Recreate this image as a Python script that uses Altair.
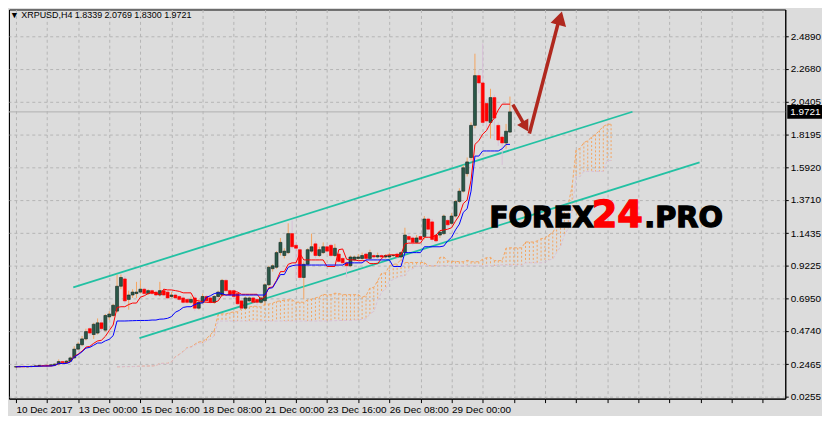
import altair as alt
import pandas as pd

# ---------------- data ----------------
opens = [0.228, 0.230, 0.232, 0.229, 0.231, 0.233, 0.235, 0.238, 0.240, 0.236,
         0.244, 0.248, 0.265, 0.258, 0.268, 0.290, 0.350, 0.380, 0.420, 0.490,
         0.450, 0.460, 0.530, 0.480, 0.570, 0.580, 0.610, 0.780, 0.830, 0.690,
         0.720, 0.730, 0.740, 0.760, 0.730, 0.750, 0.740, 0.720, 0.750, 0.740,
         0.710, 0.720, 0.710, 0.700, 0.690, 0.670, 0.700, 0.630, 0.670, 0.710,
         0.700, 0.670, 0.710, 0.720, 0.820, 0.750, 0.750, 0.730, 0.680, 0.630,
         0.680, 0.700, 0.690, 0.670, 0.680, 0.790, 0.900, 0.910, 1.010, 0.990,
         1.010, 1.140, 1.060, 1.030, 0.840, 0.930, 1.020, 1.070, 0.990, 1.010,
         1.050, 1.060, 0.990, 1.000, 0.970, 0.940, 0.920, 0.960, 0.970, 0.970,
         1.000, 0.970, 0.990, 0.980, 0.990, 0.980, 0.980, 0.990, 1.000, 0.980,
         1.010, 1.120, 1.110, 1.080, 1.120, 1.120, 1.240, 1.220, 1.130, 1.130,
         1.140, 1.230, 1.210, 1.260, 1.360, 1.430, 1.550, 1.660, 1.880, 2.220,
         2.170, 2.030, 1.900, 2.070, 1.880, 1.800, 1.760, 1.8339]
highs = [0.235, 0.236, 0.238, 0.234, 0.237, 0.240, 0.242, 0.245, 0.245, 0.246,
         0.252, 0.280, 0.270, 0.275, 0.300, 0.370, 0.400, 0.440, 0.490, 0.500,
         0.530, 0.560, 0.550, 0.590, 0.610, 0.660, 0.860, 0.860, 0.850, 0.750,
         0.760, 0.810, 0.820, 0.770, 0.760, 0.760, 0.750, 0.810, 0.760, 0.750,
         0.740, 0.730, 0.720, 0.720, 0.700, 0.710, 0.720, 0.690, 0.730, 0.720,
         0.710, 0.720, 0.750, 0.830, 0.830, 0.760, 0.760, 0.740, 0.690, 0.710,
         0.710, 0.710, 0.700, 0.710, 0.800, 0.920, 0.930, 1.020, 1.110, 1.040,
         1.210, 1.230, 1.080, 1.050, 0.950, 1.040, 1.140, 1.090, 1.050, 1.080,
         1.070, 1.070, 1.070, 1.010, 0.980, 0.950, 0.990, 0.990, 1.000, 1.010,
         1.010, 1.030, 1.000, 1.010, 1.000, 1.000, 1.010, 1.000, 1.010, 1.020,
         1.180, 1.140, 1.120, 1.130, 1.130, 1.260, 1.250, 1.240, 1.140, 1.160,
         1.270, 1.240, 1.280, 1.370, 1.450, 1.610, 1.660, 1.900, 2.370, 2.260,
         2.440, 2.060, 2.130, 2.090, 1.900, 1.820, 1.890, 2.0769]
lows = [0.224, 0.226, 0.228, 0.225, 0.227, 0.229, 0.231, 0.233, 0.232, 0.233,
        0.240, 0.238, 0.250, 0.252, 0.262, 0.285, 0.345, 0.370, 0.410, 0.440,
        0.420, 0.450, 0.470, 0.470, 0.550, 0.570, 0.600, 0.760, 0.660, 0.620,
        0.700, 0.700, 0.730, 0.720, 0.720, 0.720, 0.710, 0.710, 0.710, 0.690,
        0.700, 0.690, 0.680, 0.660, 0.660, 0.660, 0.610, 0.620, 0.660, 0.670,
        0.660, 0.660, 0.700, 0.710, 0.740, 0.710, 0.700, 0.650, 0.620, 0.620,
        0.670, 0.660, 0.650, 0.660, 0.650, 0.780, 0.880, 0.900, 0.990, 0.970,
        1.000, 1.030, 0.830, 0.820, 0.690, 0.920, 1.010, 0.970, 0.980, 1.000,
        1.000, 0.980, 0.980, 0.940, 0.930, 0.840, 0.910, 0.950, 0.960, 0.960,
        0.960, 0.960, 0.960, 0.970, 0.970, 0.970, 0.970, 0.980, 0.970, 0.970,
        1.000, 1.080, 1.060, 1.070, 1.090, 1.100, 1.150, 1.080, 1.080, 1.110,
        1.130, 1.180, 1.200, 1.250, 1.350, 1.420, 1.530, 1.640, 1.860, 2.100,
        1.880, 1.840, 1.790, 1.780, 1.740, 1.610, 1.720, 1.8300]
closes = [0.230, 0.232, 0.229, 0.231, 0.233, 0.235, 0.238, 0.236, 0.236, 0.243,
          0.248, 0.265, 0.258, 0.268, 0.290, 0.350, 0.385, 0.420, 0.470, 0.460,
          0.520, 0.530, 0.490, 0.580, 0.590, 0.650, 0.780, 0.840, 0.680, 0.720,
          0.740, 0.740, 0.760, 0.730, 0.750, 0.730, 0.720, 0.750, 0.720, 0.700,
          0.720, 0.700, 0.690, 0.670, 0.670, 0.690, 0.630, 0.670, 0.710, 0.680,
          0.670, 0.710, 0.740, 0.820, 0.750, 0.720, 0.710, 0.660, 0.630, 0.700,
          0.700, 0.670, 0.670, 0.700, 0.790, 0.910, 0.920, 1.010, 1.080, 1.020,
          1.140, 1.050, 1.040, 0.840, 0.930, 1.030, 1.050, 0.990, 1.030, 1.050,
          1.020, 0.990, 1.040, 0.950, 0.940, 0.920, 0.980, 0.980, 0.980, 0.990,
          0.970, 1.010, 0.980, 0.990, 0.980, 0.990, 0.990, 0.991, 0.980, 1.010,
          1.130, 1.100, 1.080, 1.110, 1.100, 1.240, 1.170, 1.100, 1.090, 1.150,
          1.260, 1.200, 1.260, 1.360, 1.430, 1.590, 1.630, 1.880, 2.220, 2.170,
          1.900, 1.910, 2.070, 1.930, 1.780, 1.760, 1.840, 1.9721]

x_tick_bars = [0, 16, 32, 48, 64, 80, 96, 112]
x_tick_labels = ["10 Dec 2017", "13 Dec 00:00", "15 Dec 16:00", "18 Dec 08:00",
                 "21 Dec 00:00", "23 Dec 16:00", "26 Dec 08:00", "29 Dec 00:00"]
y_ticks = [0.0255, 0.2465, 0.4740, 0.6950, 0.9225, 1.1435, 1.3710, 1.5920,
           1.8195, 2.0405, 2.2680, 2.4890]

channel_bars = [14.75, 158.5, 31.75, 175.75]
channel_prices = [0.772, 1.973, 0.426, 1.627]
channel_ids = ["upper", "upper", "lower", "lower"]

shaft_x = [127.75, 132.0]
shaft_y = [2.021, 1.824]
shaft_x2 = [130.8, 139.4]
shaft_y2 = [1.880, 2.580]
head_x = [131.0, 139.9]
head_y = [1.871, 2.613]
head_angle = [150, 15]
head_size = [170, 260]

last_price = 1.9721
title_text = "\u25bc XRPUSD,H4  1.8339 2.0769 1.8300 1.9721"

# ---------------- tables ----------------
n = len(opens)
bars = list(range(n))
df = pd.DataFrame({"bar": bars, "open": opens, "high": highs, "low": lows, "close": closes})
df["dir"] = ["bull" if c >= o else "bear" for o, c in zip(opens, closes)]

h = pd.Series(highs)
l = pd.Series(lows)
tenkan = (h.rolling(9, min_periods=1).max() + l.rolling(9, min_periods=1).min()) / 2
kijun = (h.rolling(26, min_periods=1).max() + l.rolling(26, min_periods=1).min()) / 2
span_a = (tenkan + kijun) / 2
span_b = (h.rolling(52, min_periods=1).max() + l.rolling(52, min_periods=1).min()) / 2

lines_df = pd.DataFrame({"bar": bars, "tenkan": tenkan, "kijun": kijun})
cloud_df = pd.DataFrame({"bar": [b + 26 for b in bars], "a": span_a, "b": span_b})
cloud_df["dir"] = ["up" if a >= b else "down" for a, b in zip(span_a, span_b)]

chan_df = pd.DataFrame({"bar": channel_bars, "price": channel_prices, "id": channel_ids})
shaft_df = pd.DataFrame({"x": shaft_x, "y": shaft_y, "x2": shaft_x2, "y2": shaft_y2})
head_df = pd.DataFrame({"x": head_x, "y": head_y, "angle": head_angle, "size": head_size})

# ---------------- scales / axes ----------------
W, H = 782, 392
xs = alt.Scale(domain=[-0.5, 196.5], nice=False, zero=False)
ys = alt.Scale(domain=[0.0117, 2.6722], nice=False, zero=False)

label_map = "{" + ",".join(f"'{b}':'{t}'" for b, t in zip(x_tick_bars, x_tick_labels)) + "}"
x_axis = alt.Axis(
    values=list(range(0, 197, 8)), labelExpr=f"{label_map}[''+datum.value] || ''",
    title=None, grid=True, gridDash=[3, 3], gridColor="#b4b4b4",
    labelAlign="left", labelBaseline="top", labelPadding=2, tickSize=4,
    labelOverlap=False, labelFlush=False,
)
y_axis = alt.Axis(
    values=y_ticks, format=".4f", orient="right", title=None, grid=True,
    gridDash=[3, 3], gridColor="#b4b4b4", tickSize=3, labelPadding=2,
    labelOverlap=False, labelFlush=False,
)


def X(field):
    return alt.X(field, type="quantitative", scale=xs, axis=x_axis, title=None)


def Y(field):
    return alt.Y(field, type="quantitative", scale=ys, axis=y_axis, title=None)


BULL, BEAR = "#2b5848", "#ff0000"

cloud = alt.Chart(cloud_df).mark_rule(strokeDash=[2, 2], strokeWidth=1).encode(
    x=X("bar"), y=Y("a"), y2="b:Q",
    color=alt.Color("dir:N", scale=alt.Scale(domain=["up", "down"], range=["#f4a460", "#d8bfd8"]), legend=None),
)
span_a_line = alt.Chart(cloud_df).mark_line(color="#f4a460", strokeDash=[3, 2], strokeWidth=1).encode(
    x=X("bar"), y=Y("a"))
span_b_line = alt.Chart(cloud_df).mark_line(color="#d8bfd8", strokeDash=[3, 2], strokeWidth=1).encode(
    x=X("bar"), y=Y("b"))

price_line = alt.Chart(pd.DataFrame({"p": [last_price]})).mark_rule(color="#b0b0b0", strokeWidth=1).encode(
    y=Y("p"))

channels = alt.Chart(chan_df).mark_line(color="#22c1a3", strokeWidth=1.8).encode(
    x=X("bar"), y=Y("price"), detail="id:N")

wicks = alt.Chart(df).mark_rule(strokeWidth=1).encode(
    x=X("bar"), y=Y("low"), y2="high:Q",
    color=alt.Color("dir:N", scale=alt.Scale(domain=["bull", "bear"], range=["#1f2f2a", BEAR]), legend=None),
)
bodies = alt.Chart(df).mark_bar(size=3, strokeWidth=0.6).encode(
    x=X("bar"), y=Y("open"), y2="close:Q",
    fill=alt.Fill("dir:N", scale=alt.Scale(domain=["bull", "bear"], range=[BULL, BEAR]), legend=None),
    stroke=alt.Stroke("dir:N", scale=alt.Scale(domain=["bull", "bear"], range=["#10251e", BEAR]), legend=None),
)

tenkan_line = alt.Chart(lines_df).mark_line(color="#ff0000", strokeWidth=1).encode(
    x=X("bar"), y=Y("tenkan"))
kijun_line = alt.Chart(lines_df).mark_line(color="#0000ff", strokeWidth=1).encode(
    x=X("bar"), y=Y("kijun"))

ARROW = "#b0281e"
shafts = alt.Chart(shaft_df).mark_rule(color=ARROW, strokeWidth=3.5).encode(
    x=X("x"), y=Y("y"), x2="x2:Q", y2="y2:Q")
heads = alt.Chart(head_df).mark_point(shape="triangle-up", filled=True, color=ARROW, opacity=1).encode(
    x=X("x"), y=Y("y"),
    angle=alt.Angle("angle:Q", scale=None), size=alt.Size("size:Q", scale=None, legend=None))

wm_common = dict(font="DejaVu Sans", fontWeight="bold", align="left", baseline="alphabetic", strokeWidth=1.3)
wm1 = alt.Chart(pd.DataFrame({"t": ["FOREX"]})).mark_text(
    color="#000000", stroke="#000000", fontSize=28, **wm_common).encode(
    x=alt.value(484), y=alt.value(219), text="t:N")
wm2 = alt.Chart(pd.DataFrame({"t": ["24"]})).mark_text(
    color="#ff0000", stroke="#ff0000", fontSize=37, **wm_common).encode(
    x=alt.value(587), y=alt.value(219), text="t:N")
wm3 = alt.Chart(pd.DataFrame({"t": [".PRO"]})).mark_text(
    color="#000000", stroke="#000000", fontSize=29, **wm_common).encode(
    x=alt.value(640), y=alt.value(219), text="t:N")

title = alt.Chart(pd.DataFrame({"t": [title_text]})).mark_text(
    font="Liberation Sans", fontSize=9, align="left", baseline="top", color="#000000").encode(
    x=alt.value(1), y=alt.value(2), text="t:N")

price_box = alt.Chart(pd.DataFrame({"p": [last_price]})).mark_rect(
    color="#000000", yOffset=-7, y2Offset=7).encode(
    x=alt.value(W + 2), x2=alt.value(W + 37), y=Y("p"), y2="p:Q")
price_text = alt.Chart(pd.DataFrame({"p": [last_price], "t": [f"{last_price:.4f}"]})).mark_text(
    font="Liberation Sans", fontSize=10, align="left", baseline="middle", color="#ffffff").encode(
    x=alt.value(W + 5), y=Y("p"), text="t:N")

chart = alt.layer(
    cloud, span_a_line, span_b_line, price_line, channels, wicks, bodies,
    tenkan_line, kijun_line, shafts, heads, wm1, wm2, wm3, title, price_box, price_text,
).properties(
    width=W, height=H, padding=0, background="#dcdcdc",
).configure_view(
    stroke="#000000", strokeWidth=1, fill="#dcdcdc",
).configure_axis(
    labelFont="Liberation Sans", labelFontSize=10, labelColor="#000000",
    tickColor="#000000", domainColor="#000000",
)

chart.save("out.html", embed_options={"renderer": "svg", "actions": False})
